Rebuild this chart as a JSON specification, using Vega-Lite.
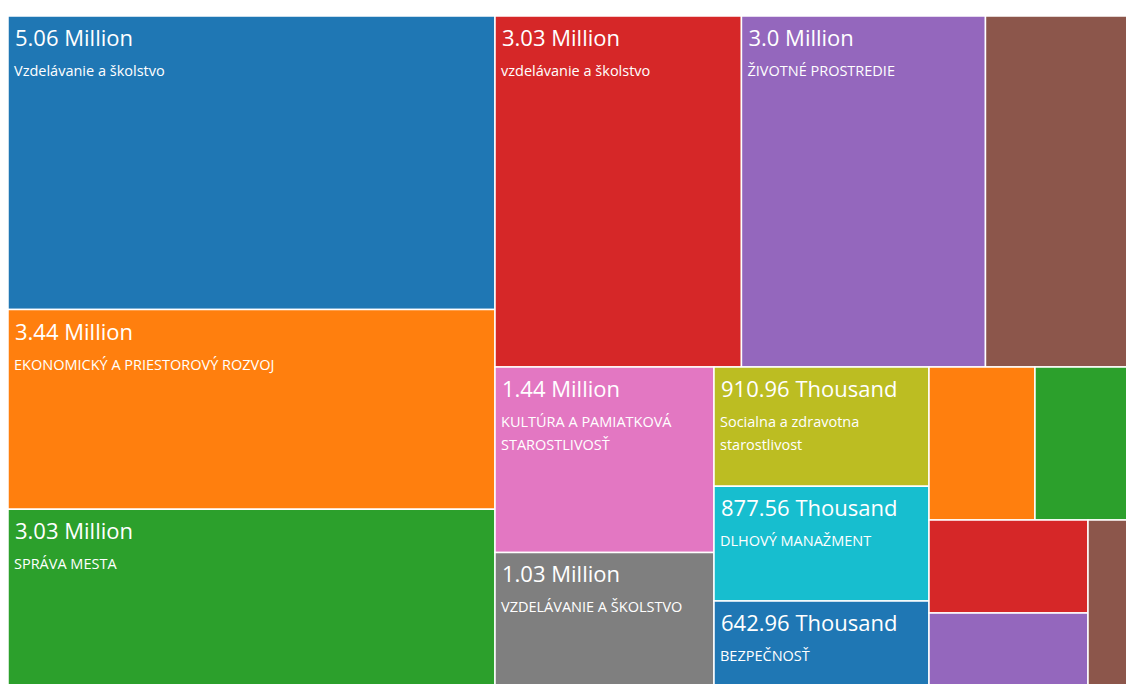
{
  "$schema": "https://vega.github.io/schema/vega-lite/v6.json",
  "padding": {"left": 7, "top": 15, "right": 0, "bottom": 0},
  "background": "white",
  "config": {"view": {"stroke": null}, "concat": {"spacing": 0}},
  "datasets": {
    "tiles": [
      {"id": 1, "group": "c1", "category": "Vzdelávanie a školstvo", "value": 5060000, "label": "5.06 Million"},
      {"id": 2, "group": "c1", "category": "EKONOMICKÝ A PRIESTOROVÝ ROZVOJ", "value": 3440000, "label": "3.44 Million"},
      {"id": 3, "group": "c1", "category": "SPRÁVA MESTA", "value": 3030000, "label": "3.03 Million"},
      {"id": 4, "group": "top", "category": "vzdelávanie a školstvo", "value": 3030000, "label": "3.03 Million"},
      {"id": 5, "group": "top", "category": "ŽIVOTNÉ PROSTREDIE", "value": 3000000, "label": "3.0 Million"},
      {"id": 6, "group": "top", "category": "", "value": 1740000, "label": ""},
      {"id": 7, "group": "bA", "category": "KULTÚRA A PAMIATKOVÁ\nSTAROSTLIVOSŤ", "value": 1440000, "label": "1.44 Million"},
      {"id": 8, "group": "bA", "category": "VZDELÁVANIE A ŠKOLSTVO", "value": 1030000, "label": "1.03 Million"},
      {"id": 9, "group": "bB", "category": "Socialna a zdravotna\nstarostlivost", "value": 910960, "label": "910.96 Thousand"},
      {"id": 10, "group": "bB", "category": "DLHOVÝ MANAŽMENT", "value": 877560, "label": "877.56 Thousand"},
      {"id": 11, "group": "bB", "category": "BEZPEČNOSŤ", "value": 642960, "label": "642.96 Thousand"},
      {"id": 12, "group": "cTop", "category": "", "value": 570000, "label": ""},
      {"id": 13, "group": "cTop", "category": "", "value": 495000, "label": ""},
      {"id": 14, "group": "cL", "category": "", "value": 520000, "label": ""},
      {"id": 15, "group": "cL", "category": "", "value": 402000, "label": ""},
      {"id": 16, "group": "cR", "category": "", "value": 226000, "label": ""}
    ]
  },
  "hconcat": [
    {
      "width": 487, "height": 669,
      "data": {"name": "tiles"},
      "transform": [
        {"filter": "datum.group === 'c1'"},
        {"stack": "value", "groupby": [], "sort": [{"field": "id", "order": "ascending"}], "offset": "normalize", "as": ["s0", "s1"]}
      ],
      "layer": [
        {"mark": {"type": "rect", "stroke": "white", "strokeWidth": 1.5},
         "encoding": {
           "y": {"field": "s0", "type": "quantitative", "scale": {"domain": [0, 1], "reverse": true, "nice": false, "zero": false}, "axis": null},
           "y2": {"field": "s1"},
           "x": {"datum": 0, "type": "quantitative", "scale": {"domain": [0, 1], "nice": false}, "axis": null},
           "x2": {"datum": 1},
           "color": {"field": "id", "type": "nominal", "scale": {"domain": [1,2,3,4,5,6,7,8,9,10,11,12,13,14,15,16], "scheme": "category10"}, "legend": null}
         }},
        {"transform": [{"filter": "datum.label !== ''"}],
         "mark": {"type": "text", "align": "left", "baseline": "alphabetic", "dx": 7, "dy": 30, "fontSize": 22, "font": "Open Sans", "color": "white"},
         "encoding": {"y": {"field": "s0", "type": "quantitative"}, "x": {"datum": 0, "type": "quantitative"}, "text": {"field": "label"}}},
        {"transform": [{"filter": "datum.category !== ''"}],
         "mark": {"type": "text", "align": "left", "baseline": "alphabetic", "dx": 6, "dy": 60, "fontSize": 14.5, "lineHeight": 23, "lineBreak": "\n", "font": "Open Sans", "color": "white"},
         "encoding": {"y": {"field": "s0", "type": "quantitative"}, "x": {"datum": 0, "type": "quantitative"}, "text": {"field": "category"}}}
      ]
    },
    {
      "spacing": 0, "bounds": "flush",
      "vconcat": [
        {
          "width": 632, "height": 351,
          "data": {"name": "tiles"},
          "transform": [
            {"filter": "datum.group === 'top'"},
            {"stack": "value", "groupby": [], "sort": [{"field": "id", "order": "ascending"}], "offset": "normalize", "as": ["s0", "s1"]}
          ],
          "layer": [
            {"mark": {"type": "rect", "stroke": "white", "strokeWidth": 1.5},
             "encoding": {
               "x": {"field": "s0", "type": "quantitative", "scale": {"domain": [0, 1], "nice": false, "zero": false}, "axis": null},
               "x2": {"field": "s1"},
               "y": {"datum": 0, "type": "quantitative", "scale": {"domain": [0, 1], "nice": false}, "axis": null},
               "y2": {"datum": 1},
               "color": {"field": "id", "type": "nominal", "scale": {"domain": [1,2,3,4,5,6,7,8,9,10,11,12,13,14,15,16], "scheme": "category10"}, "legend": null}
             }},
            {"transform": [{"filter": "datum.label !== ''"}],
             "mark": {"type": "text", "align": "left", "baseline": "alphabetic", "dx": 7, "dy": 30, "fontSize": 22, "font": "Open Sans", "color": "white"},
             "encoding": {"x": {"field": "s0", "type": "quantitative"}, "y": {"datum": 1, "type": "quantitative"}, "text": {"field": "label"}}},
            {"transform": [{"filter": "datum.category !== ''"}],
             "mark": {"type": "text", "align": "left", "baseline": "alphabetic", "dx": 6, "dy": 60, "fontSize": 14.5, "lineHeight": 23, "lineBreak": "\n", "font": "Open Sans", "color": "white"},
             "encoding": {"x": {"field": "s0", "type": "quantitative"}, "y": {"datum": 1, "type": "quantitative"}, "text": {"field": "category"}}}
          ]
        },
        {
          "spacing": 0, "bounds": "flush",
          "hconcat": [
            {
              "width": 219, "height": 318,
              "data": {"name": "tiles"},
              "transform": [
                {"filter": "datum.group === 'bA'"},
                {"stack": "value", "groupby": [], "sort": [{"field": "id", "order": "ascending"}], "offset": "normalize", "as": ["s0", "s1"]}
              ],
              "layer": [
                {"mark": {"type": "rect", "stroke": "white", "strokeWidth": 1.5},
                 "encoding": {
                   "y": {"field": "s0", "type": "quantitative", "scale": {"domain": [0, 1], "reverse": true, "nice": false, "zero": false}, "axis": null},
                   "y2": {"field": "s1"},
                   "x": {"datum": 0, "type": "quantitative", "scale": {"domain": [0, 1], "nice": false}, "axis": null},
                   "x2": {"datum": 1},
                   "color": {"field": "id", "type": "nominal", "scale": {"domain": [1,2,3,4,5,6,7,8,9,10,11,12,13,14,15,16], "scheme": "category10"}, "legend": null}
                 }},
                {"transform": [{"filter": "datum.label !== ''"}],
                 "mark": {"type": "text", "align": "left", "baseline": "alphabetic", "dx": 7, "dy": 30, "fontSize": 22, "font": "Open Sans", "color": "white"},
                 "encoding": {"y": {"field": "s0", "type": "quantitative"}, "x": {"datum": 0, "type": "quantitative"}, "text": {"field": "label"}}},
                {"transform": [{"filter": "datum.category !== ''"}],
                 "mark": {"type": "text", "align": "left", "baseline": "alphabetic", "dx": 6, "dy": 60, "fontSize": 14.5, "lineHeight": 23, "lineBreak": "\n", "font": "Open Sans", "color": "white"},
                 "encoding": {"y": {"field": "s0", "type": "quantitative"}, "x": {"datum": 0, "type": "quantitative"}, "text": {"field": "category"}}}
              ]
            },
            {
              "width": 215, "height": 318,
              "data": {"name": "tiles"},
              "transform": [
                {"filter": "datum.group === 'bB'"},
                {"stack": "value", "groupby": [], "sort": [{"field": "id", "order": "ascending"}], "offset": "normalize", "as": ["s0", "s1"]}
              ],
              "layer": [
                {"mark": {"type": "rect", "stroke": "white", "strokeWidth": 1.5},
                 "encoding": {
                   "y": {"field": "s0", "type": "quantitative", "scale": {"domain": [0, 1], "reverse": true, "nice": false, "zero": false}, "axis": null},
                   "y2": {"field": "s1"},
                   "x": {"datum": 0, "type": "quantitative", "scale": {"domain": [0, 1], "nice": false}, "axis": null},
                   "x2": {"datum": 1},
                   "color": {"field": "id", "type": "nominal", "scale": {"domain": [1,2,3,4,5,6,7,8,9,10,11,12,13,14,15,16], "scheme": "category10"}, "legend": null}
                 }},
                {"transform": [{"filter": "datum.label !== ''"}],
                 "mark": {"type": "text", "align": "left", "baseline": "alphabetic", "dx": 7, "dy": 30, "fontSize": 22, "font": "Open Sans", "color": "white"},
                 "encoding": {"y": {"field": "s0", "type": "quantitative"}, "x": {"datum": 0, "type": "quantitative"}, "text": {"field": "label"}}},
                {"transform": [{"filter": "datum.category !== ''"}],
                 "mark": {"type": "text", "align": "left", "baseline": "alphabetic", "dx": 6, "dy": 60, "fontSize": 14.5, "lineHeight": 23, "lineBreak": "\n", "font": "Open Sans", "color": "white"},
                 "encoding": {"y": {"field": "s0", "type": "quantitative"}, "x": {"datum": 0, "type": "quantitative"}, "text": {"field": "category"}}}
              ]
            },
            {
              "spacing": 0, "bounds": "flush",
              "vconcat": [
                {
                  "width": 198, "height": 153,
                  "data": {"name": "tiles"},
                  "transform": [
                    {"filter": "datum.group === 'cTop'"},
                    {"stack": "value", "groupby": [], "sort": [{"field": "id", "order": "ascending"}], "offset": "normalize", "as": ["s0", "s1"]}
                  ],
                  "mark": {"type": "rect", "stroke": "white", "strokeWidth": 1.5},
                  "encoding": {
                    "x": {"field": "s0", "type": "quantitative", "scale": {"domain": [0, 1], "nice": false, "zero": false}, "axis": null},
                    "x2": {"field": "s1"},
                    "y": {"datum": 0, "type": "quantitative", "scale": {"domain": [0, 1], "nice": false}, "axis": null},
                    "y2": {"datum": 1},
                    "color": {"field": "id", "type": "nominal", "scale": {"domain": [1,2,3,4,5,6,7,8,9,10,11,12,13,14,15,16], "scheme": "category10"}, "legend": null}
                  }
                },
                {
                  "spacing": 0, "bounds": "flush",
                  "hconcat": [
                    {
                      "width": 159, "height": 165,
                      "data": {"name": "tiles"},
                      "transform": [
                        {"filter": "datum.group === 'cL'"},
                        {"stack": "value", "groupby": [], "sort": [{"field": "id", "order": "ascending"}], "offset": "normalize", "as": ["s0", "s1"]}
                      ],
                      "mark": {"type": "rect", "stroke": "white", "strokeWidth": 1.5},
                      "encoding": {
                        "y": {"field": "s0", "type": "quantitative", "scale": {"domain": [0, 1], "reverse": true, "nice": false, "zero": false}, "axis": null},
                        "y2": {"field": "s1"},
                        "x": {"datum": 0, "type": "quantitative", "scale": {"domain": [0, 1], "nice": false}, "axis": null},
                        "x2": {"datum": 1},
                        "color": {"field": "id", "type": "nominal", "scale": {"domain": [1,2,3,4,5,6,7,8,9,10,11,12,13,14,15,16], "scheme": "category10"}, "legend": null}
                      }
                    },
                    {
                      "width": 39, "height": 165,
                      "data": {"name": "tiles"},
                      "transform": [
                        {"filter": "datum.group === 'cR'"},
                        {"stack": "value", "groupby": [], "sort": [{"field": "id", "order": "ascending"}], "offset": "normalize", "as": ["s0", "s1"]}
                      ],
                      "mark": {"type": "rect", "stroke": "white", "strokeWidth": 1.5},
                      "encoding": {
                        "y": {"field": "s0", "type": "quantitative", "scale": {"domain": [0, 1], "reverse": true, "nice": false, "zero": false}, "axis": null},
                        "y2": {"field": "s1"},
                        "x": {"datum": 0, "type": "quantitative", "scale": {"domain": [0, 1], "nice": false}, "axis": null},
                        "x2": {"datum": 1},
                        "color": {"field": "id", "type": "nominal", "scale": {"domain": [1,2,3,4,5,6,7,8,9,10,11,12,13,14,15,16], "scheme": "category10"}, "legend": null}
                      }
                    }
                  ]
                }
              ]
            }
          ]
        }
      ]
    }
  ],
  "spacing": 0,
  "bounds": "flush"
}
